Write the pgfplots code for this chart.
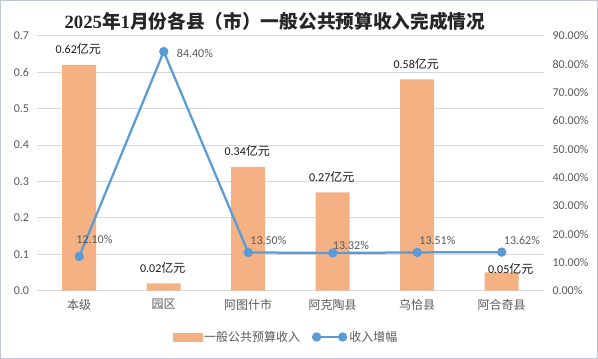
\documentclass[border=0pt]{standalone}
\usepackage{fontspec}
\setmainfont{Carlito}
\newfontfamily\cjk{Noto Sans CJK SC}
\newfontfamily\serifdig{Liberation Serif}
\usepackage{pgfplots}
\pgfplotsset{compat=1.18}
\definecolor{barc}{HTML}{F4B183}
\definecolor{linec}{HTML}{5B9BD5}
\definecolor{gridc}{HTML}{D9D9D9}
\definecolor{txt}{HTML}{595959}
\definecolor{bordc}{HTML}{BFC9D6}
\begin{document}
\begin{tikzpicture}
\path (0pt,0pt) rectangle (598pt,359pt);
\draw[bordc, line width=0.75pt] (0.5pt,0.5pt) rectangle (597.5pt,358.5pt);
\node[font=\fontsize{18.7}{22}\selectfont\bfseries, color=black!85, inner sep=0pt] at (275pt,338pt)
  {{\serifdig\bfseries 2025}{\cjk\bfseries 年}{\serifdig\bfseries 1}{\cjk\bfseries 月份各县（市）一般公共预算收入完成情况}};
\begin{axis}[
  at={(37pt,68.3pt)}, anchor=south west, scale only axis,
  width=507pt, height=255pt,
  xmin=-0.5, xmax=5.5, ymin=0, ymax=0.7,
  xtick={0,1,2,3,4,5},
  xticklabels={本级,园区,阿图什市,阿克陶县,乌恰县,阿合奇县},
  ytick={0,0.1,0.2,0.3,0.4,0.5,0.6,0.7},
  ymajorgrids, grid style={gridc, line width=0.75pt},
  axis x line*=bottom, axis y line*=left,
  x axis line style={gridc, line width=0.75pt, -},
  y axis line style={draw=none},
  major tick length=0pt,
  /pgf/number format/assume math mode=true,
  yticklabel style={font=\fontsize{12}{14}\selectfont, color=txt, xshift=-4.5pt,
     /pgf/number format/.cd, fixed, fixed zerofill, precision=1},
  xticklabel style={font=\cjk\fontsize{12}{14}\selectfont, color=txt, yshift=-5pt},
]
\addplot[ybar, bar width=34pt, bar shift=0pt, fill=barc, draw=none]
  coordinates {(0,0.62) (1,0.02) (2,0.34) (3,0.27) (4,0.58) (5,0.05)};
\addplot[draw=none, mark=none, nodes near coords, point meta=explicit symbolic,
  every node near coord/.style={anchor=center, inner sep=0pt, xshift=-1pt, yshift=15.5pt,
     font=\fontsize{12}{14}\selectfont, color=black!90}]
  coordinates {(0,0.62)[0.62{\cjk 亿元}] (1,0.02)[0.02{\cjk 亿元}] (2,0.34)[0.34{\cjk 亿元}]
               (3,0.27)[0.27{\cjk 亿元}] (4,0.58)[0.58{\cjk 亿元}]};
\addplot[draw=none, mark=none, nodes near coords, point meta=explicit symbolic,
  every node near coord/.style={anchor=center, inner sep=0pt, xshift=9pt, yshift=4pt,
     font=\fontsize{12}{14}\selectfont, color=black!90}]
  coordinates {(5,0.05)[0.05{\cjk 亿元}]};
\end{axis}
\begin{axis}[
  at={(37pt,68.3pt)}, anchor=south west, scale only axis,
  width=507pt, height=255pt,
  xmin=-0.5, xmax=5.5, ymin=0, ymax=90,
  axis x line=none, axis y line*=right,
  y axis line style={draw=none},
  ytick={0,10,20,30,40,50,60,70,80,90},
  major tick length=0pt,
  /pgf/number format/assume math mode=true,
  yticklabel={\pgfmathprintnumber[fixed,fixed zerofill,precision=2]{\tick}\%},
  yticklabel style={font=\fontsize{12}{14}\selectfont, color=txt, anchor=west, xshift=5pt},
  legend style={at={(0.491,-0.1816)}, anchor=center, draw=none, fill=none,
     legend columns=-1, font=\cjk\fontsize{12}{14}\selectfont, text=txt,
     /tikz/every even column/.append style={column sep=10pt}},
]
\addlegendimage{legend image code/.code={\fill[barc] (0pt,-4pt) rectangle (29pt,4pt);}}
\addlegendentry{一般公共预算收入}
\addplot[linec, line width=2.25pt, mark=*, mark size=3.5pt,
   mark options={fill=linec, draw=none},
   legend image code/.code={\draw[linec, line width=2.25pt] (0pt,0pt) -- (26pt,0pt);
      \fill[linec] (0pt,0pt) circle (3.5pt); \fill[linec] (26pt,0pt) circle (3.5pt);}]
  coordinates {(0,12.10) (1,84.40) (2,13.50) (3,13.32) (4,13.51) (5,13.62)};
\addlegendentry{收入增幅}
\addplot[forget plot, draw=none, mark=none, nodes near coords, point meta=explicit symbolic,
  every node near coord/.style={anchor=west, inner sep=0pt, xshift=-3pt, yshift=16.5pt,
     font=\fontsize{12}{14}\selectfont, color=txt}]
  coordinates {(0,12.10)[12.10\%]};
\addplot[forget plot, draw=none, mark=none, nodes near coords, point meta=explicit symbolic,
  every node near coord/.style={anchor=west, inner sep=0pt, xshift=13pt, yshift=-2pt,
     font=\fontsize{12}{14}\selectfont, color=txt}]
  coordinates {(1,84.40)[84.40\%]};
\addplot[forget plot, draw=none, mark=none, nodes near coords, point meta=explicit symbolic,
  every node near coord/.style={anchor=west, inner sep=0pt, xshift=2pt, yshift=12pt,
     font=\fontsize{12}{14}\selectfont, color=txt}]
  coordinates {(2,13.50)[13.50\%] (4,13.51)[13.51\%] (5,13.62)[13.62\%]};
\addplot[forget plot, draw=none, mark=none, nodes near coords, point meta=explicit symbolic,
  every node near coord/.style={anchor=west, inner sep=0pt, xshift=0pt, yshift=8pt,
     font=\fontsize{12}{14}\selectfont, color=txt}]
  coordinates {(3,13.32)[13.32\%]};
\end{axis}
\end{tikzpicture}
\end{document}
